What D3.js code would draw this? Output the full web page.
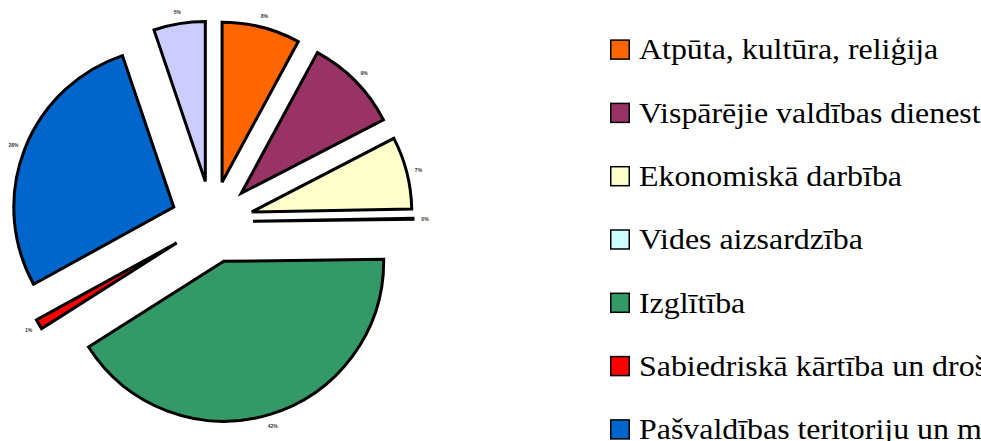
<!DOCTYPE html>
<html>
<head>
<meta charset="utf-8">
<script src="https://cdn.jsdelivr.net/npm/d3@7"></script>
<style>
  html, body { margin: 0; padding: 0; background: #fff; overflow: hidden; }
  svg { display: block; }
</style>
</head>
<body>
<svg id="chart" width="981" height="441"></svg>
<script>
const categories = [
  "Atpūta, kultūra, reliģija",
  "Vispārējie valdības dienesti",
  "Ekonomiskā darbība",
  "Vides aizsardzība",
  "Izglītība",
  "Sabiedriskā kārtība un drošība",
  "Pašvaldības teritoriju un mājokļu apsaimniekošana",
  "Sociālā aizsardzība"
];
const values = [7.9, 9.5, 7.3, 0.1, 41.2, 1.0, 27.8, 5.2];
const valueLabels = ["8%", "9%", "7%", "0%", "42%", "1%", "28%", "5%"];
const colors = ["#FF6600", "#993366", "#FFFFCC", "#CCFFFF", "#339966", "#FF0000", "#0066CC", "#CCCCFF"];

const data = categories.map((c, i) => ({ name: c, value: values[i], label: valueLabels[i], color: colors[i] }));

const svg = d3.select("#chart");
const cx = 212, cy = 222, R = 160, explode = 41, labelR = R + 12;

const pie = d3.pie().sort(null).value(d => d.value).startAngle(0).endAngle(2 * Math.PI);
const arc = d3.arc().innerRadius(0).outerRadius(R);
const arcs = pie(data);

const g = svg.append("g").attr("transform", `translate(${cx},${cy})`);

const slice = g.selectAll("g.slice").data(arcs).enter().append("g")
  .attr("class", "slice")
  .attr("transform", d => {
    const m = (d.startAngle + d.endAngle) / 2;
    return `translate(${explode * Math.sin(m)},${-explode * Math.cos(m)})`;
  });

slice.append("path")
  .attr("d", arc)
  .attr("fill", d => d.data.color)
  .attr("stroke", "#000")
  .attr("stroke-width", 3)
  .attr("stroke-linejoin", "miter");

slice.append("text")
  .attr("x", d => labelR * Math.sin((d.startAngle + d.endAngle) / 2))
  .attr("y", d => -labelR * Math.cos((d.startAngle + d.endAngle) / 2))
  .attr("text-anchor", "middle")
  .attr("dominant-baseline", "central")
  .attr("font-family", "Liberation Sans")
  .attr("font-size", 5)
  .attr("font-weight", "bold")
  .attr("fill", "#333")
  .text(d => d.data.label);

// Legend
const legend = svg.append("g").attr("transform", "translate(610,0)");
const rowY = i => 49.6 + i * 63.3;
const item = legend.selectAll("g.item").data(data).enter().append("g")
  .attr("class", "item")
  .attr("transform", (d, i) => `translate(0,${rowY(i)})`);

item.append("rect")
  .attr("x", 0.75).attr("y", -9.5)
  .attr("width", 18.5).attr("height", 19)
  .attr("fill", d => d.color)
  .attr("stroke", "#000")
  .attr("stroke-width", 1.5);

item.append("text")
  .attr("transform", "translate(29,9.7) scale(1.1,1)")
  .attr("font-family", "Liberation Serif")
  .attr("font-size", 29)
  .attr("fill", "#000")
  .text(d => d.name);
</script>
</body>
</html>
